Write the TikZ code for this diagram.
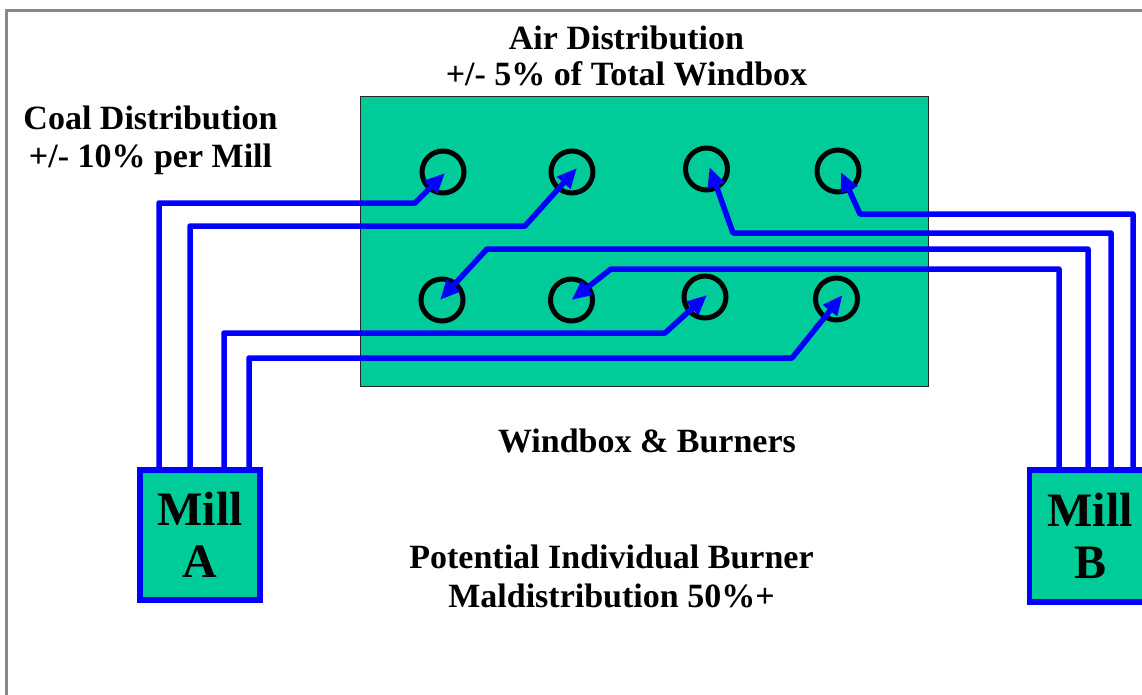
\documentclass[tikz,border=0pt]{standalone}
\usepackage{fontspec}
\setmainfont{Liberation Serif}
\usetikzlibrary{arrows.meta,calc}
\definecolor{wbgreen}{RGB}{0,204,153}
\definecolor{pipeblue}{RGB}{0,0,255}
\definecolor{framegray}{RGB}{136,136,136}
\begin{document}
\begin{tikzpicture}[x=1pt,y=-1pt,
  pipe/.style={draw=pipeblue,line width=5.5pt,line join=round},
  feed/.style={pipe,-{Triangle[length=20pt,width=17pt]}},
  burner/.style={circle,draw=black,line width=5pt,minimum size=42pt,inner sep=0pt},
  mill/.style={rectangle,draw=pipeblue,fill=wbgreen,line width=5.5pt,align=center,
    font=\fontsize{48}{52}\selectfont\bfseries,inner sep=0pt},
  lbl/.style={anchor=base,inner sep=0pt,font=\fontsize{34}{37}\selectfont\bfseries}]
\useasboundingbox (0,0) rectangle (1142,694);
\clip (0,0) rectangle (1142,694);
\draw[framegray,line width=3pt] (6.5,10.5) rectangle (1170,720);
% windbox
\node[draw=black!85,fill=wbgreen,line width=1pt,minimum width=568pt,minimum height=290pt,inner sep=0pt] (wbox) at (644,241) {};
% burners
\node[burner] (b1) at (443,172) {};
\node[burner] (b2) at (572,172) {};
\node[burner] (b3) at (706.5,169) {};
\node[burner] (b4) at (838,171) {};
\node[burner] (b5) at (442,300) {};
\node[burner] (b6) at (571.5,300) {};
\node[burner] (b7) at (705,297) {};
\node[burner] (b8) at (836.5,299) {};
% texts
\node[lbl] (air1) at (626.5,49) {Air Distribution};
\node[lbl] (air2) at (626.5,85) {+/- 5\% of Total Windbox};
\node[lbl] (coal1) at (150.5,129) {Coal Distribution};
\node[lbl] (coal2) at (150.5,167) {+/- 10\% per Mill};
\node[lbl] (wb) at (647,452) {Windbox \& Burners};
\node[lbl] (pot1) at (611.5,568) {Potential Individual Burner};
\node[lbl] (pot2) at (611.5,607) {Maldistribution 50\%+};
% pipe start points
\coordinate (a1) at (159,470);
\coordinate (a2) at (190,470);
\coordinate (a3) at (224,470);
\coordinate (a4) at (249,470);
\coordinate (c1) at (1133,470);
\coordinate (c2) at (1111,470);
\coordinate (c3) at (1088,470);
\coordinate (c4) at (1059,470);
% pipes
\draw[feed] (a1) |- (415,203) -- ([shift={(2,1)}]b1.center);
\draw[feed] (a2) |- (525,226) -- ([shift={(5,-4)}]b2.center);
\draw[feed] (a3) |- (665,333) -- ([shift={(2,-2)}]b7.center);
\draw[feed] (a4) |- (792,358) -- ([shift={(6,-4)}]b8.center);
\draw[feed] (c1) |- (860,214) -- ([shift={(3,1)}]b4.center);
\draw[feed] (c2) |- (733,233) -- ([shift={(3,-2)}]b3.center);
\draw[feed] (c3) |- (487,249) -- ([shift={(-2,0)}]b5.center);
\draw[feed] (c4) |- (611,269) -- ([shift={(0,0)}]b6.center);
% mills
\node[mill,minimum width=120pt,minimum height=130pt] (millA) at (200,535) {Mill\\A};
\node[mill,minimum width=121pt,minimum height=132pt] (millB) at (1090,536) {Mill\\B};
\end{tikzpicture}
\end{document}
